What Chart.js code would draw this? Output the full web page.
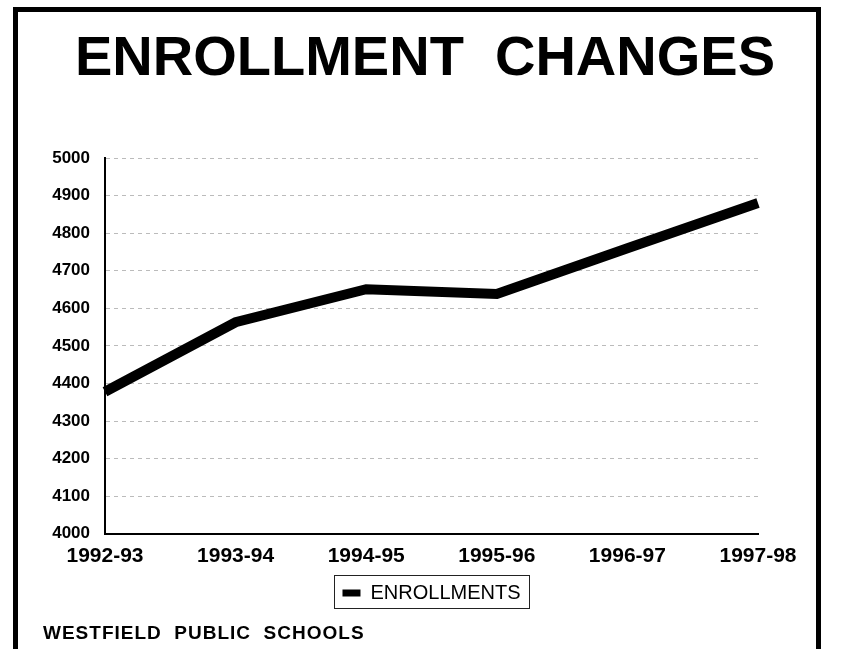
<!DOCTYPE html>
<html>
<head>
<meta charset="utf-8">
<title>Enrollment Changes</title>
<script src="https://cdn.jsdelivr.net/npm/chart.js@4/dist/chart.umd.min.js"></script>
<style>
  html, body { margin: 0; padding: 0; background: #fff; }
  #chart { display: block; }
</style>
</head>
<body>
<canvas id="chart" width="844" height="649"></canvas>
<script>
// school years on the x axis
const seasons = ['1992-93', '1993-94', '1994-95', '1995-96', '1996-97', '1997-98'];
// total enrollment per year
const enrollments = [4378, 4563, 4651, 4638, 4760, 4880];
// y axis range
const yMin = 4000;
const yMax = 5000;
const yStep = 100;

const titleText = 'ENROLLMENT  CHANGES';
const footerText = 'WESTFIELD  PUBLIC  SCHOOLS';

// border frame, big title, footer and the box round the legend
const framePlugin = {
    id: 'frame',
    beforeDraw(chart) {
        const ctx = chart.ctx;
        ctx.save();
        ctx.fillStyle = '#fff';
        ctx.fillRect(0, 0, chart.width, chart.height);

        ctx.strokeStyle = '#000';
        ctx.lineWidth = 5;
        ctx.beginPath();
        ctx.moveTo(15.5, chart.height);
        ctx.lineTo(15.5, 9.5);
        ctx.lineTo(818.5, 9.5);
        ctx.lineTo(818.5, chart.height);
        ctx.stroke();

        ctx.fillStyle = '#000';
        ctx.textBaseline = 'alphabetic';
        ctx.textAlign = 'center';
        ctx.font = 'bold 56px "Liberation Sans", Arial, sans-serif';
        ctx.fillText(titleText, 425, 75);

        ctx.textAlign = 'left';
        ctx.font = 'bold 19px "Liberation Sans", Arial, sans-serif';
        ctx.letterSpacing = '1px';
        ctx.fillText(footerText, 43, 639);
        ctx.restore();
    },
    afterDraw(chart) {
        const hb = chart.legend && chart.legend.legendHitBoxes && chart.legend.legendHitBoxes[0];
        if (!hb) return;
        const ctx = chart.ctx;
        ctx.save();
        ctx.strokeStyle = '#222';
        ctx.lineWidth = 1;
        ctx.strokeRect(Math.round(hb.left - 8) + 0.5, Math.round(hb.top - 8) + 0.5,
            Math.round(hb.width + 17), 33);
        ctx.restore();
    }
};

const ctx = document.getElementById('chart').getContext('2d');
new Chart(ctx, {
    type: 'line',
    data: {
        labels: seasons,
        datasets: [{
            label: 'ENROLLMENTS',
            data: enrollments,
            borderColor: '#000',
            backgroundColor: '#000',
            borderWidth: 10,
            borderCapStyle: 'butt',
            borderJoinStyle: 'miter',
            pointRadius: 0,
            tension: 0,
            fill: false
        }]
    },
    options: {
        responsive: false,
        animation: false,
        devicePixelRatio: 1,
        layout: {
            padding: { left: 0, right: 86, top: 158, bottom: 36 }
        },
        plugins: {
            title: { display: false },
            tooltip: { enabled: false },
            legend: {
                position: 'bottom',
                fullSize: false,
                labels: {
                    color: '#000',
                    font: { family: '"Liberation Sans", Arial, sans-serif', size: 20 },
                    boxWidth: 18,
                    boxHeight: 7,
                    padding: 4,
                    generateLabels(chart) {
                        const items = Chart.defaults.plugins.legend.labels.generateLabels(chart);
                        items.forEach(it => { it.lineWidth = 0; });
                        return items;
                    }
                }
            }
        },
        scales: {
            x: {
                offset: false,
                grid: { display: false, drawTicks: false },
                border: { display: true, color: '#000', width: 2 },
                ticks: {
                    color: '#000',
                    padding: 10,
                    maxRotation: 0,
                    autoSkip: false,
                    font: { family: '"Liberation Sans", Arial, sans-serif', size: 21, weight: 'bold' }
                }
            },
            y: {
                min: yMin,
                max: yMax,
                afterFit(scale) { scale.width = 105; },
                grid: { color: '#bbb', lineWidth: 1, drawTicks: false },
                border: { display: true, color: '#000', width: 2, dash: [4, 4] },
                ticks: {
                    stepSize: yStep,
                    color: '#000',
                    padding: 15,
                    callback: value => String(value),
                    font: { family: '"Liberation Sans", Arial, sans-serif', size: 17, weight: 'bold' }
                }
            }
        }
    },
    plugins: [framePlugin]
});
</script>
</body>
</html>
